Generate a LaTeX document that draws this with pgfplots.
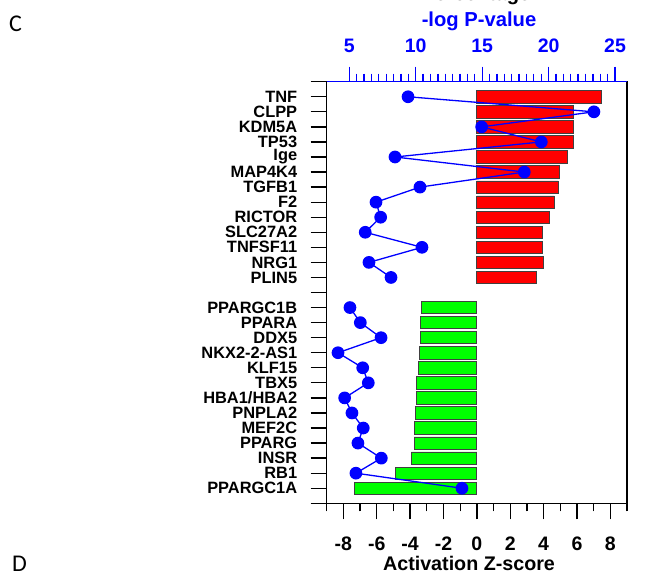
\documentclass[border=0pt]{standalone}
\usepackage{pgfplots}
\pgfplotsset{compat=1.18}
\usepackage{fontspec}
\setmainfont{Liberation Sans}
\newfontfamily\carlito{Carlito}
\definecolor{myblue}{RGB}{0,0,255}
\definecolor{myred}{RGB}{255,0,0}
\definecolor{mygreen}{RGB}{0,255,0}
\begin{document}
\begin{tikzpicture}
\useasboundingbox (0pt,0pt) rectangle (647pt,-570pt);
\begin{axis}[
  at={(326.7pt,-503.3pt)}, anchor=south west,
  width=300.3pt, height=421.6pt, scale only axis,
  xmin=-9, xmax=9, ymin=0, ymax=28,
  axis line style={line width=1.3pt},
  tick align=outside,
  xtick pos=bottom, ytick pos=left,
  xtick={-8,-6,...,8}, xticklabels={-8,-6,-4,-2,0,2,4,6,8},
  minor xtick={-9,-7,...,9},
  ytick={0,...,28},
  yticklabels={{},PPARGC1A,RB1,INSR,PPARG,MEF2C,PNPLA2,HBA1/HBA2,TBX5,KLF15,NKX2-2-AS1,DDX5,PPARA,PPARGC1B,{},PLIN5,NRG1,TNFSF11,SLC27A2,RICTOR,F2,TGFB1,MAP4K4,Ige,TP53,KDM5A,CLPP,TNF,{}},
  major tick length=16pt, minor tick length=8pt,
  tick style={black, line width=1.3pt},
  xticklabel style={font=\bfseries\fontsize{19.5}{20}\selectfont, yshift=-14pt},
  yticklabel style={font=\bfseries\fontsize{16.4}{17}\selectfont, xshift=-10pt},
]
\addplot[xbar, bar shift=0pt, bar width=0.82, fill=myred, draw=black!75, line width=0.8pt] coordinates {(7.44,27) (5.8,26) (5.8,25) (5.76,24) (5.44,23) (4.96,22) (4.86,21) (4.64,20) (4.32,19) (3.94,18) (3.94,17) (3.96,16) (3.54,15)};
\addplot[xbar, bar shift=0pt, bar width=0.82, fill=mygreen, draw=black!75, line width=0.8pt] coordinates {(-3.32,13) (-3.36,12) (-3.4,11) (-3.46,10) (-3.5,9) (-3.6,8) (-3.64,7) (-3.66,6) (-3.72,5) (-3.76,4) (-3.92,3) (-4.86,2) (-7.36,1)};
\end{axis}
\begin{axis}[
  at={(326.7pt,-503.3pt)}, anchor=south west,
  width=300.3pt, height=421.6pt, scale only axis,
  xmin=3.3, xmax=25.9, ymin=0, ymax=28,
  axis x line*=top, axis y line=none,
  x axis line style={myblue, line width=1.3pt, -},
  tick align=outside,
  xtick={5,10,...,25}, xticklabels={5,10,15,20,25},
  minor x tick num=8,
  major tick length=15pt, minor tick length=8pt,
  tick style={myblue, line width=1.3pt},
  xticklabel style={font=\bfseries\fontsize{19.5}{20}\selectfont, text=myblue, yshift=10pt},
]
\addplot[myblue, line width=1.3pt, mark=*, mark size=5.7pt, mark options={fill=myblue, draw=myblue}] coordinates {(9.42,27) (23.41,26) (14.96,25) (19.45,24) (8.44,23) (18.17,22) (10.32,21) (7.01,20) (7.36,19) (6.20,18) (10.47,17) (6.48,16) (8.14,15)};
\addplot[myblue, line width=1.3pt, mark=*, mark size=5.7pt, mark options={fill=myblue, draw=myblue}] coordinates {(5.05,13) (5.83,12) (7.39,11) (4.15,10) (6.01,9) (6.43,8) (4.65,7) (5.20,6) (6.05,5) (5.65,4) (7.41,3) (5.50,2) (13.48,1)};
\end{axis}
\node[anchor=base, font=\bfseries\fontsize{20.2}{22}\selectfont, text=myblue] at (479pt,-26pt) {-log P-value};
\node[anchor=base, font=\bfseries\fontsize{20.2}{22}\selectfont] at (476pt,-0.5pt) {Percentage};
\node[anchor=base, font=\bfseries\fontsize{19.7}{22}\selectfont] at (469pt,-570.3pt) {Activation Z-score};
\node[anchor=base west, inner sep=0pt, font=\carlito\fontsize{24}{24}\selectfont] at (9pt,-31pt) {C};
\node[anchor=base west, inner sep=0pt, font=\carlito\fontsize{24}{24}\selectfont] at (12pt,-571pt) {D};
\end{tikzpicture}
\end{document}
